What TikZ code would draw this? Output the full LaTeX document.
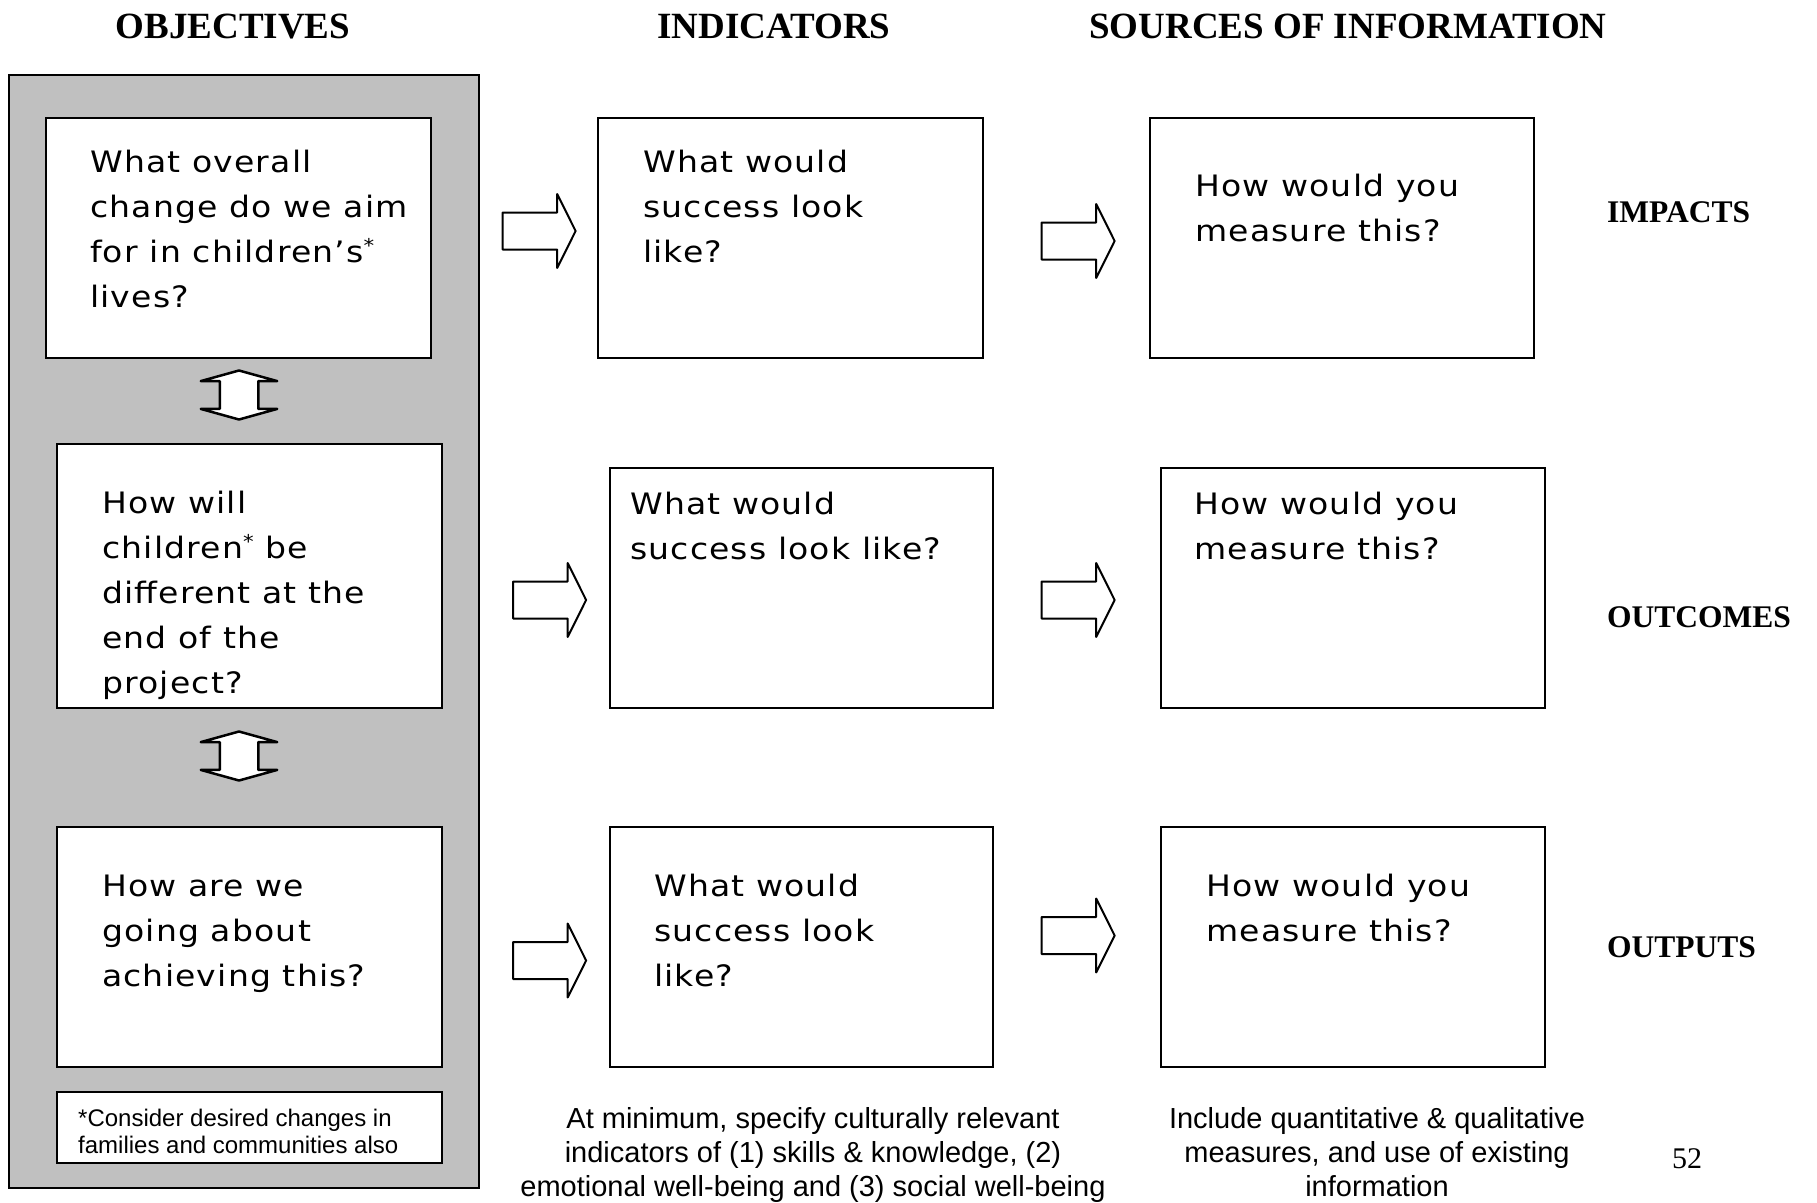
\documentclass[tikz,border=0pt]{standalone}
\usepackage{fontspec}
\setmainfont{Liberation Serif}
\newfontfamily\boxfont[FakeStretch=1.12,LetterSpace=4]{DejaVu Sans}
\newfontfamily\arialfont{Liberation Sans}
\usetikzlibrary{shapes.arrows}
\definecolor{panelgray}{RGB}{192,192,192}
\newcommand\mylines[1]{\begin{tabular}[t]{@{}l@{}}#1\end{tabular}}
\newcommand\clines[1]{\begin{tabular}[t]{@{}c@{}}#1\end{tabular}}
\newcommand\supast{\textsuperscript{\fontsize{19}{19}\selectfont *}}
\begin{document}
\begin{tikzpicture}[x=1pt,y=-1pt,
  box/.style={draw=black, line width=2pt, fill=white, inner sep=0pt},
  qtext/.style={anchor=base west, inner sep=0pt, font=\boxfont\fontsize{29.5}{45}\selectfont},
  head/.style={anchor=base, inner sep=0pt, font=\bfseries\fontsize{37}{44}\selectfont},
  level/.style={anchor=base west, inner sep=0pt, font=\bfseries\fontsize{31.5}{38}\selectfont},
  note/.style={anchor=base, inner sep=0pt, font=\arialfont\fontsize{29}{34}\selectfont},
  foot/.style={anchor=base west, inner sep=0pt, font=\arialfont\fontsize{24}{27.5}\selectfont},
  blockarrow/.style={single arrow, draw=black, line width=2pt, line join=round, fill=white, minimum height=73pt, minimum width=72pt, single arrow head extend=18.5pt, single arrow tip angle=127, inner xsep=0pt, inner ysep=17.5pt},
  dblarrow/.style={double arrow, draw=black, line width=2.5pt, line join=round, fill=white, rotate=90, minimum height=49pt, minimum width=74pt, double arrow head extend=19pt, double arrow tip angle=149, inner xsep=0pt, inner ysep=18pt}
]
\useasboundingbox (0,0) rectangle (1817,1202);
% headers
\node[head] (hobj) at (233,38) {OBJECTIVES};
\node[head] (hind) at (774,38) {INDICATORS};
\node[head] (hsrc) at (1348,38) {SOURCES OF INFORMATION};
% grey panel
\node[draw=black, line width=2pt, fill=panelgray, minimum width=470pt, minimum height=1113pt, inner sep=0pt] (panel) at (244,631.5) {};
% objective boxes
\node[box, minimum width=385pt, minimum height=240pt] (o1) at (238.5,238) {};
\node[box, minimum width=385pt, minimum height=264pt] (o2) at (249.5,576) {};
\node[box, minimum width=385pt, minimum height=240pt] (o3) at (249.5,947) {};
\node[box, minimum width=385pt, minimum height=71pt] (onote) at (249.5,1127.5) {};
\node[dblarrow] (d1) at (239,395) {};
\node[dblarrow] (d2) at (239,756) {};
% indicator boxes
\node[box, minimum width=385pt, minimum height=240pt] (i1) at (790.5,238) {};
\node[box, minimum width=383pt, minimum height=240pt] (i2) at (801.5,588) {};
\node[box, minimum width=383pt, minimum height=240pt] (i3) at (801.5,947) {};
% source boxes
\node[box, minimum width=384pt, minimum height=240pt] (s1) at (1342,238) {};
\node[box, minimum width=384pt, minimum height=240pt] (s2) at (1353,588) {};
\node[box, minimum width=384pt, minimum height=240pt] (s3) at (1353,947) {};
% block arrows
\node[blockarrow] (a1) at (534.5,231) {};
\node[blockarrow] (a2) at (1073.5,241) {};
\node[blockarrow] (a3) at (545,600) {};
\node[blockarrow] (a4) at (1073.5,600) {};
\node[blockarrow] (a5) at (545,960.5) {};
\node[blockarrow] (a6) at (1073.5,935.5) {};
% texts
\node[qtext] (t1) at (90,172) {\mylines{What overall\\change do we aim\\for in children’s\supast\\lives?}};
\node[qtext] (t2) at (102,513) {\mylines{How will\\children\supast{} be\\different at the\\end of the\\project?}};
\node[qtext] (t3) at (102,896) {\mylines{How are we\\going about\\achieving this?}};
\node[qtext] (t4) at (643,172) {\mylines{What would\\success look\\like?}};
\node[qtext] (t5) at (630,514) {\mylines{What would\\success look like?}};
\node[qtext] (t6) at (654,896) {\mylines{What would\\success look\\like?}};
\node[qtext] (t7) at (1195,196) {\mylines{How would you\\measure this?}};
\node[qtext] (t8) at (1194,514) {\mylines{How would you\\measure this?}};
\node[qtext] (t9) at (1206,896) {\mylines{How would you\\measure this?}};
\node[foot] (tn) at (78,1126) {\mylines{*Consider desired changes in\\families and communities also}};
% levels
\node[level] (l1) at (1607,222) {IMPACTS};
\node[level] (l2) at (1607,627) {OUTCOMES};
\node[level] (l3) at (1607,957) {OUTPUTS};
% notes below
\node[note] (n1) at (813,1128) {\clines{At minimum, specify culturally relevant\\indicators of (1) skills \& knowledge, (2)\\emotional well-being and (3) social well-being}};
\node[note] (n2) at (1377,1128) {\clines{Include quantitative \& qualitative\\measures, and use of existing\\information}};
\node[anchor=base, inner sep=0pt, font=\fontsize{30}{36}\selectfont] (pg) at (1687,1168) {52};
\end{tikzpicture}
\end{document}
